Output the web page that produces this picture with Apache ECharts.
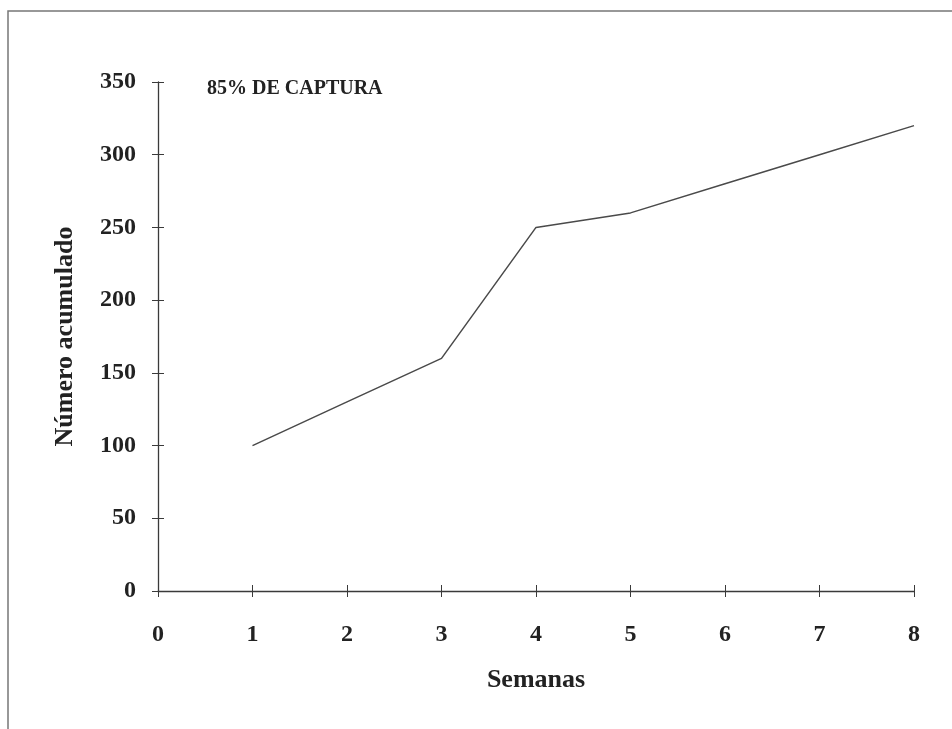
<!DOCTYPE html>
<html><head><meta charset="utf-8">
<script src="https://cdn.jsdelivr.net/npm/echarts@6/dist/echarts.min.js"></script>
<style>html,body{margin:0;padding:0;background:#fff}#c{width:952px;height:729px}</style>
</head><body><div id="c"></div>
<script>
const semanas = [1, 2, 3, 4, 5, 6, 7, 8];
const acumulado = [100, 130, 160, 250, 260, 280, 300, 320];
const titulo = '85% DE CAPTURA';
const xName = 'Semanas';
const yName = 'Número acumulado';

const font = '"Liberation Serif", "DejaVu Serif", serif';
const axisCol = '#3a3a3a';
const chart = echarts.init(document.getElementById('c'));
const labelStyle = {color: '#222', fontFamily: font, fontWeight: 'bold', fontSize: 24};
chart.setOption({
  animation: false,
  backgroundColor: '#fff',
  grid: {left: 158, right: 38, top: 82, bottom: 138},
  graphic: [
    {type: 'rect', shape: {x: 8, y: 11, width: 960, height: 740}, style: {fill: 'none', stroke: '#777', lineWidth: 1.5}, silent: true},
    {type: 'text', left: 207, top: 79, style: {text: titulo, font: 'bold 20px ' + font, fill: '#222'}}
  ],
  xAxis: [{
    type: 'value', min: 0, max: 8, interval: 1,
    name: xName, nameLocation: 'middle', nameGap: 76,
    nameTextStyle: {color: '#222', fontFamily: font, fontWeight: 'bold', fontSize: 26},
    axisLine: {onZero: false, lineStyle: {color: axisCol, width: 1.3}},
    axisTick: {show: true, length: 6, lineStyle: {color: axisCol}},
    axisLabel: Object.assign({margin: 32}, labelStyle),
    splitLine: {show: false}
  }, {
    type: 'value', min: 0, max: 8, interval: 1, position: 'bottom',
    axisLine: {show: false},
    axisTick: {show: true, inside: true, length: 6, lineStyle: {color: axisCol}},
    axisLabel: {show: false}, splitLine: {show: false}
  }],
  yAxis: [{
    type: 'value', min: 0, max: 350, interval: 50,
    name: yName, nameLocation: 'middle', nameGap: 80, nameRotate: 90,
    nameTextStyle: {color: '#222', fontFamily: font, fontWeight: 'bold', fontSize: 26},
    axisLine: {show: true, lineStyle: {color: axisCol, width: 1.3}},
    axisTick: {show: true, length: 6, lineStyle: {color: axisCol}},
    axisLabel: Object.assign({margin: 22}, labelStyle),
    splitLine: {show: false}
  }, {
    type: 'value', min: 0, max: 350, interval: 50, position: 'left',
    axisLine: {show: false},
    axisTick: {show: true, inside: true, length: 6, lineStyle: {color: axisCol}},
    axisLabel: {show: false}, splitLine: {show: false}
  }],
  series: [{
    type: 'line',
    data: semanas.map((s, i) => [s, acumulado[i]]),
    symbol: 'none',
    lineStyle: {color: '#4a4a4a', width: 1.5},
    xAxisIndex: 0, yAxisIndex: 0
  }]
});
</script></body></html>
